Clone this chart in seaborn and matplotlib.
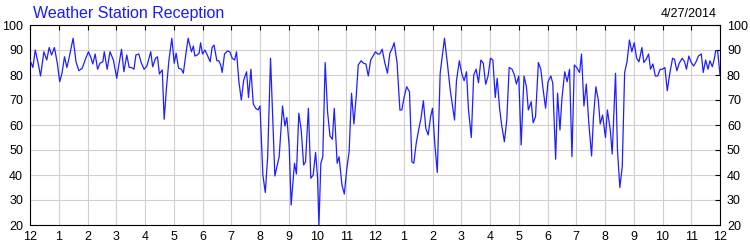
import matplotlib
matplotlib.use("Agg")
import matplotlib.pyplot as plt
import seaborn as sns
import pandas as pd
import numpy as np

title = "Weather Station Reception"
date_label = "4/27/2014"
hour_labels = ["12"] + [str(h) for h in range(1, 12)] + ["12"] + [str(h) for h in range(1, 12)] + ["12"]
y_ticks = [20, 30, 40, 50, 60, 70, 80, 90, 100]

# minutes after midnight
minutes = [
    0, 6, 11, 17, 22, 29, 35, 40, 45, 51, 57, 62, 67, 72, 77, 81, 90, 96, 102, 109,
    115, 122, 127, 131, 136, 141, 146, 152, 155, 161, 167, 174, 181, 186, 191, 196, 202, 207, 212, 217,
    221, 227, 232, 238, 244, 252, 256, 262, 266, 270, 273, 276, 280, 285, 290, 296, 301, 305, 310, 316,
    320, 325, 330,
    337, 341, 344, 349, 353, 356, 360, 365, 370, 376, 380, 384, 390, 394, 398, 401, 406, 412, 417, 422,
    427, 431, 436, 441, 446, 452, 456, 461, 466, 471, 476, 480, 486, 491, 496, 502, 511, 520, 527, 532,
    536, 541, 545, 552, 556, 561, 566, 571, 575, 581, 586, 591, 596, 600, 603, 607, 611, 616, 621, 626,
    631, 635, 641, 645, 651, 656, 661, 666, 671, 676, 681, 685, 691, 696, 701, 706,
    711, 717, 721, 726, 730, 735, 740, 746, 751, 756, 760, 766, 772, 776, 781, 786, 792, 797, 801, 806,
    811, 816, 821, 826, 831, 836, 840, 845, 850, 856, 865, 871, 877, 886, 890, 896, 901, 906, 911, 915,
    921, 926, 931, 936, 941, 946, 951, 956, 961, 966, 971, 975, 980, 984, 990, 995, 1000, 1006, 1011, 1015,
    1020, 1025, 1031, 1036, 1040, 1046, 1050, 1055, 1061,
    1066, 1071, 1076, 1081, 1087, 1091, 1097, 1101, 1106, 1110, 1116, 1121, 1126, 1131, 1136, 1141, 1147, 1151, 1156, 1161,
    1166, 1172, 1176, 1181, 1186, 1190, 1195, 1201, 1205, 1211, 1215, 1222, 1226, 1231, 1236, 1241, 1246, 1251, 1256, 1261,
    1266, 1271, 1277, 1281, 1286, 1291, 1295, 1300, 1305, 1310, 1315, 1320, 1325, 1330, 1335, 1341, 1345, 1350, 1355, 1361,
    1366, 1370, 1375, 1380, 1385, 1390, 1395, 1401, 1405, 1410, 1415, 1419, 1424, 1428, 1431, 1435, 1440,
]

reception = [
    86, 83, 90, 84.7, 79.6, 89.3, 86, 91, 88, 91, 84.7, 77.3, 81, 87.3, 83, 86.3, 94.7, 85.3, 81.7, 82.7,
    86, 89.3, 87, 84.4, 88.4, 82.3, 84.7, 85.3, 89.3, 82.3, 89.3, 86, 78.7, 84.7, 90.3, 81.3, 88, 83, 83, 82.3,
    88, 88.4, 85, 82.3, 83.6, 89.3, 83.3, 86.7, 87.3, 80.4, 81.3, 82, 62.3, 75.3, 86, 94.7, 84.7, 88.7, 82.7, 82.3,
    80.7, 88, 94.7,
    89.3, 91.6, 87.6, 88, 88.7, 92.9, 88.4, 90, 88, 85.3, 91, 92, 85.7, 85.7, 84, 81, 88.4, 89.6, 89.3, 86.7,
    86, 89.3, 77.3, 70, 78, 81.3, 71, 82.3, 68.4, 66.7, 66, 67.6, 40, 33, 47.3, 86.7, 39.6, 47.3, 67.6, 59.6,
    63, 51.3, 28, 44.7, 40.4, 64.7, 58, 44, 45.3, 66.7, 38.7, 40, 49, 39.3, 20, 44.7, 47.3, 85, 65.3, 55.6,
    54.3, 66.7, 44.7, 47.3, 36, 32.4, 42.3, 49.3, 72.7, 60.4, 72, 84, 85.7, 84.7, 84.4, 79.6,
    86, 88, 89.3, 88.4, 88.4, 90.3, 85.3, 80.7, 88.7, 90.7, 92.9, 85, 66, 66, 71.3, 75.3, 73.3, 45.3, 44.7, 52.7,
    58, 62.7, 69.7, 58.7, 56, 63.3, 66.7, 52, 41, 80.7, 94.7, 84.7, 74, 62, 77.7, 85.7, 80.7, 77.7, 81.3, 66.3,
    55, 80, 82.3, 76.9, 86, 84.7, 76.3, 79.6, 86.7, 86, 71, 78.7, 66.7, 60.4, 53.3, 62, 83, 82.3, 80, 76.4,
    79.6, 52, 79.6, 75.3, 66, 69.3, 60.9, 63.3, 85,
    82.3, 74, 66.7, 77.3, 79.6, 76.7, 46.3, 72.7, 58, 70.3, 81.3, 77.3, 82.3, 47.3, 84, 83, 81, 88.4, 67.6, 76.4,
    61.3, 47.6, 63.3, 75.3, 70, 60.4, 64, 55, 66, 58, 48.4, 80.7, 50, 35, 43.3, 81, 85.3, 94, 89.3, 92.9,
    86.7, 85.3, 91, 85, 86.3, 88.4, 82.3, 84.4, 79.6, 79.6, 82.3, 82.3, 83, 73.7, 80.4, 86.7, 86.3, 81.7, 84.7, 86.7,
    85.3, 82.3, 87.6, 85, 83.6, 85.3, 87.6, 88.4, 81, 86, 82.3, 85.7, 83.3, 86.3, 89.7, 89.7, 80,
]

sns.set_theme(style="white")
plt.rcParams['font.family'] = ['Liberation Sans', 'DejaVu Sans']

fig = plt.figure(figsize=(7.5, 2.5), dpi=100)
ax = fig.add_axes([30 / 750, 25 / 250, 690 / 750, 200 / 250])

df = pd.DataFrame({"hour": np.array(minutes) / 60.0, "reception": reception})
sns.lineplot(data=df, x="hour", y="reception", ax=ax, color="#1f1fff",
             linewidth=0.9, estimator=None, zorder=3)

ax.set_xlim(0, 24)
ax.set_ylim(20, 100)
ax.set_xticks(range(25))
ax.set_xticklabels(hour_labels)
ax.set_yticks(y_ticks)
ax.set_axisbelow(True)
ax.grid(True, color="#d0d0d0", linewidth=0.8)
ax.tick_params(axis='both', direction='in', length=3.5, width=0.8, top=True, right=True,
               labelright=True, labelsize=9, colors='black')
ax.tick_params(axis='x', pad=4)
ax.tick_params(axis='y', pad=5)
for s in ax.spines.values():
    s.set_color('black')
    s.set_linewidth(0.8)
ax.set_xlabel('')
ax.set_ylabel('')

fig.text(33 / 750, 1 - 18 / 250, title, color="#1a1aff", fontsize=11.5, ha='left', va='baseline')
fig.text(717 / 750, 1 - 17 / 250, date_label, color='black', fontsize=9, ha='right', va='baseline')

fig.savefig('out.png', dpi=100)
